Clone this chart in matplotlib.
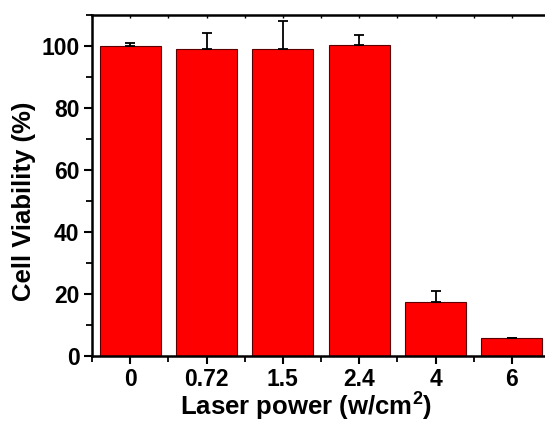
import matplotlib
matplotlib.use("Agg")
import matplotlib.pyplot as plt
import numpy as np
from matplotlib.ticker import MultipleLocator

plt.rcParams["font.family"] = ["Liberation Sans", "DejaVu Sans"]
plt.rcParams["font.weight"] = "bold"
plt.rcParams["mathtext.fontset"] = "custom"
plt.rcParams["mathtext.rm"] = "Liberation Sans:bold"
plt.rcParams["mathtext.bf"] = "Liberation Sans:bold"
plt.rcParams["mathtext.it"] = "Liberation Sans:bold"

# Laser power levels and measured viability
power_labels = ["0", "0.72", "1.5", "2.4", "4", "6"]
viability = [100.0, 99.1, 99.1, 100.4, 17.5, 5.7]
viability_err = [1.0, 5.2, 9.1, 3.1, 3.6, 0.2]

fig = plt.figure(figsize=(5.45, 4.23), dpi=100)
ax = fig.add_axes([0.1688, 0.1584, 0.8404, 0.8054])

x = np.arange(len(power_labels))
ax.bar(x, viability, width=0.8, color="#ff0000", edgecolor="#5a0000",
       linewidth=0.8, zorder=2)
ax.errorbar(x, viability, yerr=[np.zeros(len(x)), viability_err], fmt="none",
            ecolor="black", elinewidth=1.3, capsize=3.8, capthick=1.3, zorder=3)

ax.set_xlim(-0.5, len(x) - 0.5)
ax.set_ylim(0, 110)
ax.set_xticks(x)
ax.set_xticklabels(power_labels)
ax.xaxis.set_minor_locator(MultipleLocator(0.5))
ax.set_yticks(np.arange(0, 101, 20))
ax.yaxis.set_minor_locator(MultipleLocator(10))

for s in ax.spines.values():
    s.set_linewidth(1.8)

ax.tick_params(axis="both", which="major", direction="out", length=6,
               width=1.5, labelsize=16.5, pad=3)
ax.tick_params(axis="both", which="minor", direction="out", length=4,
               width=1.3)

# small inward ticks along the top frame
top = ax.secondary_xaxis("top")
top.set_xticks(np.arange(-0.5, len(x), 0.5))
top.set_xticklabels([])
top.tick_params(direction="in", length=2.5, width=1.0)
top.spines["top"].set_visible(False)

ax.set_xlabel("Laser power (w/cm$^{2}$)", fontsize=18.5, fontweight="bold")
ax.xaxis.set_label_coords(0.468, -0.101)
ax.set_ylabel("Cell Viability (%)", fontsize=18.5, fontweight="bold")
ax.yaxis.set_label_coords(-0.122, 0.455)

fig.savefig("out.png", dpi=100)
